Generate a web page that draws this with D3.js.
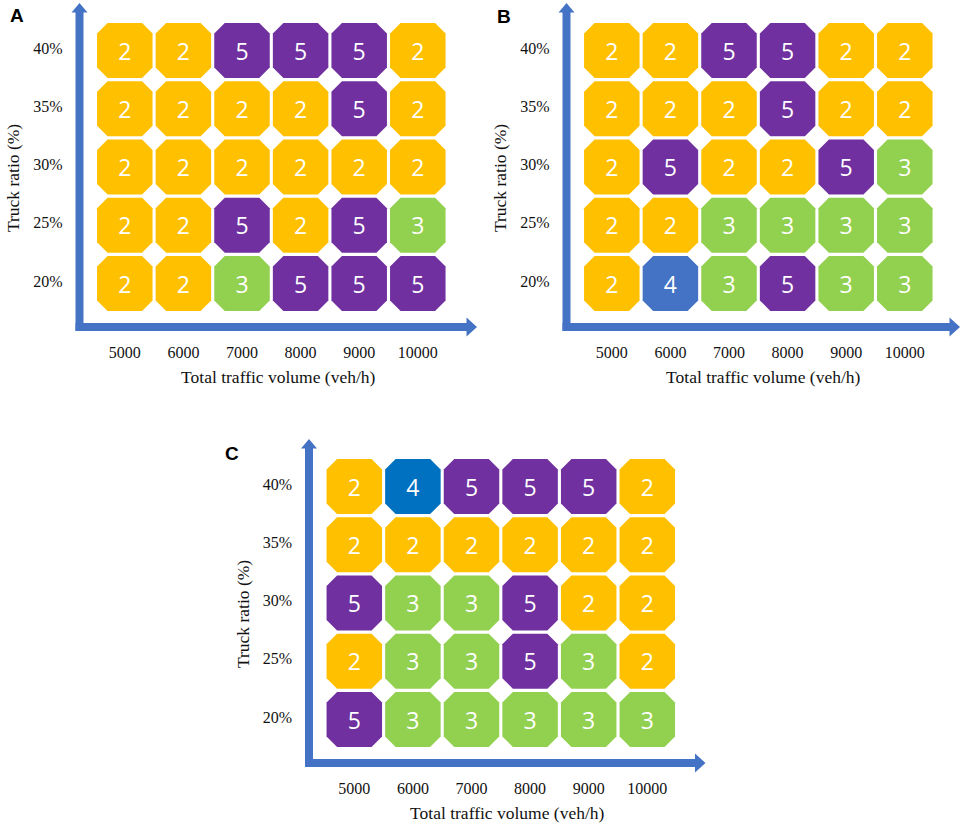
<!DOCTYPE html>
<html>
<head>
<meta charset="utf-8">
<script src="https://cdn.jsdelivr.net/npm/d3@7"></script>
<style>
  html, body { margin: 0; padding: 0; background: #ffffff; }
  svg { display: block; }
</style>
</head>
<body>
<svg id="chart" width="969" height="826"></svg>
<script>
// ---- Data ----
const xCats = ["5000", "6000", "7000", "8000", "9000", "10000"];
const yCats = ["40%", "35%", "30%", "25%", "20%"];
const xTitle = "Total traffic volume (veh/h)";
const yTitle = "Truck ratio (%)";
const panelNames = ["A", "B", "C"];
// rows follow yCats (40% at top), columns follow xCats
const valuesA = [
  [2, 2, 5, 5, 5, 2],
  [2, 2, 2, 2, 5, 2],
  [2, 2, 2, 2, 2, 2],
  [2, 2, 5, 2, 5, 3],
  [2, 2, 3, 5, 5, 5]
];
const valuesB = [
  [2, 2, 5, 5, 2, 2],
  [2, 2, 2, 5, 2, 2],
  [2, 5, 2, 2, 5, 3],
  [2, 2, 3, 3, 3, 3],
  [2, 4, 3, 5, 3, 3]
];
const valuesC = [
  [2, 4, 5, 5, 5, 2],
  [2, 2, 2, 2, 2, 2],
  [5, 3, 3, 5, 2, 2],
  [2, 3, 3, 5, 3, 2],
  [5, 3, 3, 3, 3, 3]
];

// ---- Layout / style ----
const axisColor = "#4472C4";
const baseColors = { 2: "#FFC000", 3: "#92D050", 4: "#4472C4", 5: "#7030A0" };
const panels = [
  { name: panelNames[0], values: valuesA, ox: 0,     oy: 0,   axisEnd: 477, label: [10, 22],  four: "#4472C4" },
  { name: panelNames[1], values: valuesB, ox: 487,   oy: 0,   axisEnd: 473, label: [10, 23],  four: "#4472C4" },
  { name: panelNames[2], values: valuesC, ox: 229.5, oy: 436, axisEnd: 476, label: [-4.5, 24], four: "#0070C0" }
];

const svg = d3.select("#chart");
const serif = "'Liberation Serif', 'Times New Roman', serif";

const x = d3.scaleBand().domain(xCats).range([95.5, 447.1]).paddingInner(0.053).paddingOuter(0.0265);
const y = d3.scaleBand().domain(yCats).range([21.5, 312.5]).paddingInner(0.055).paddingOuter(0.0275);

const shaftX = 79.5, shaftY = 327, th = 8;
const cut = 10.5;

function octagon(x0, y0, w, h, c) {
  return `M${x0 + c},${y0}L${x0 + w - c},${y0}L${x0 + w},${y0 + c}L${x0 + w},${y0 + h - c}` +
         `L${x0 + w - c},${y0 + h}L${x0 + c},${y0 + h}L${x0},${y0 + h - c}L${x0},${y0 + c}Z`;
}

panels.forEach(p => {
  const g = svg.append("g").attr("transform", `translate(${p.ox},${p.oy})`);

  const cells = [];
  p.values.forEach((row, i) => row.forEach((v, j) => cells.push({ r: yCats[i], c: xCats[j], v })));

  const colorOf = v => (v === 4 ? p.four : baseColors[v]);

  g.selectAll("path.cell").data(cells).enter().append("path")
    .attr("class", "cell")
    .attr("d", d => octagon(x(d.c), y(d.r), x.bandwidth(), y.bandwidth(), cut))
    .attr("fill", d => colorOf(d.v));

  g.selectAll("text.val").data(cells).enter().append("text")
    .attr("class", "val")
    .attr("x", d => x(d.c) + x.bandwidth() / 2)
    .attr("y", d => y(d.r) + y.bandwidth() / 2 + 1)
    .attr("dy", "0.36em")
    .attr("text-anchor", "middle")
    .attr("fill", "#ffffff")
    .style("font-family", "'Open Sans', 'Liberation Sans', sans-serif")
    .style("font-size", "23px")
    .text(d => d.v);

  // axes arrows
  g.append("rect").attr("x", shaftX - th / 2).attr("y", 12).attr("width", th).attr("height", shaftY + th / 2 - 12).attr("fill", axisColor);
  g.append("path").attr("d", `M${shaftX - 8},12.5L${shaftX + 8},12.5L${shaftX},3Z`).attr("fill", axisColor);
  const headBase = p.axisEnd - 10;
  g.append("rect").attr("x", shaftX - th / 2).attr("y", shaftY - th / 2).attr("width", headBase - (shaftX - th / 2)).attr("height", th).attr("fill", axisColor);
  g.append("path").attr("d", `M${headBase - 0.5},${shaftY - 9.5}L${headBase - 0.5},${shaftY + 9.5}L${p.axisEnd},${shaftY}Z`).attr("fill", axisColor);

  // tick labels via d3 axes
  const gx = g.append("g").attr("transform", `translate(0,${shaftY})`)
    .call(d3.axisBottom(x).tickSize(0).tickPadding(20));
  gx.select(".domain").remove();
  gx.selectAll("text").style("font-family", serif).style("font-size", "16px").attr("fill", "#111");

  const gy = g.append("g").attr("transform", `translate(${shaftX},0)`)
    .call(d3.axisLeft(y).tickSize(0).tickPadding(17));
  gy.select(".domain").remove();
  gy.selectAll("text").style("font-family", serif).style("font-size", "16px").attr("fill", "#111").attr("dy", "0.2em");

  // axis titles
  g.append("text").attr("x", (shaftX + p.axisEnd) / 2).attr("y", 383)
    .attr("text-anchor", "middle").style("font-family", serif).style("font-size", "17.5px").attr("fill", "#111")
    .text(xTitle);
  g.append("text").attr("transform", `translate(13,178) rotate(-90)`)
    .attr("text-anchor", "middle").attr("dy", "0.35em").style("font-family", serif).style("font-size", "17.5px").attr("fill", "#111")
    .text(yTitle);

  // panel letter
  g.append("text").attr("x", p.label[0]).attr("y", p.label[1])
    .style("font-family", "'Liberation Sans', Arial, sans-serif").style("font-weight", "bold").style("font-size", "19px").attr("fill", "#000")
    .text(p.name);
});
</script>
</body>
</html>
